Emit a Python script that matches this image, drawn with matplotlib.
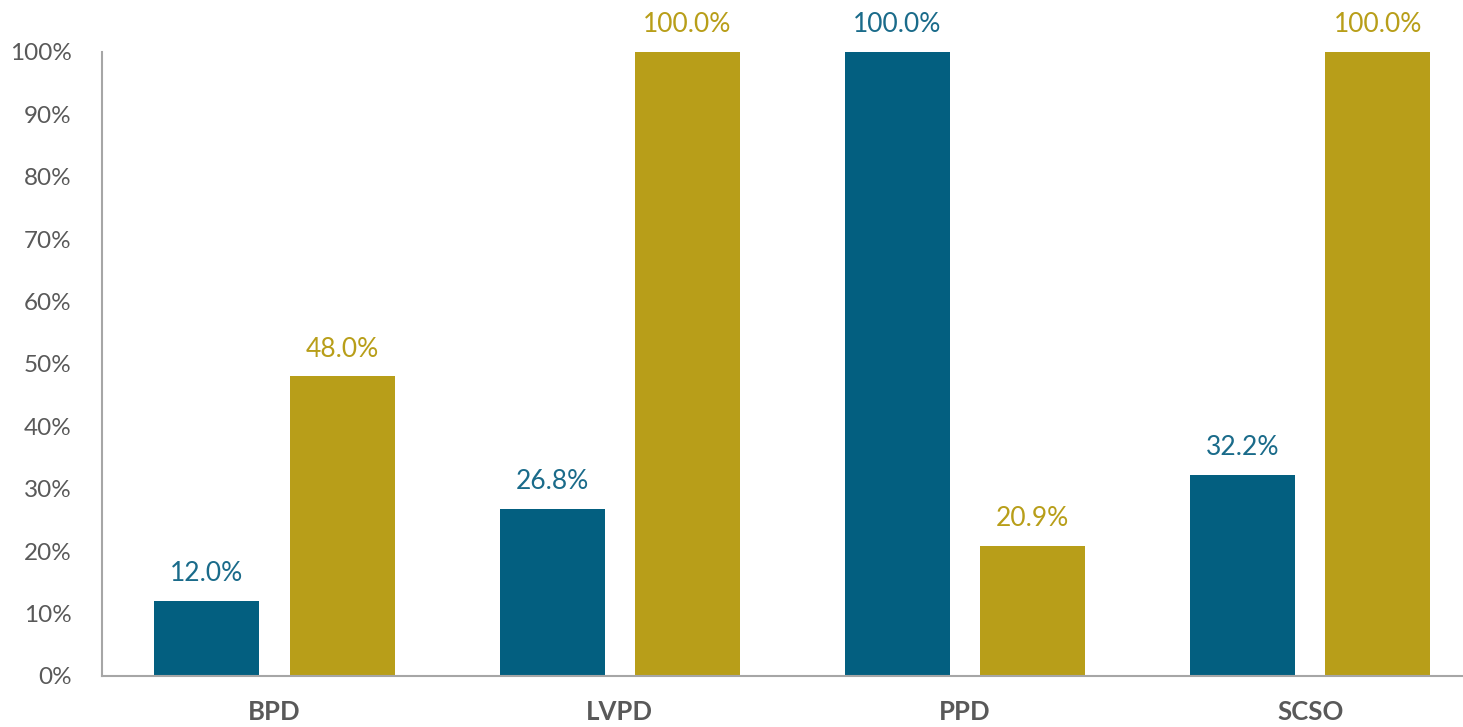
import matplotlib.pyplot as plt
import numpy as np

plt.rcParams['font.family'] = ['Lato', 'DejaVu Sans']

# data
categories = ['BPD', 'LVPD', 'PPD', 'SCSO']
series_a = [12.0, 26.8, 100.0, 32.2]
series_b = [48.0, 100.0, 20.9, 100.0]
y_ticks = [0, 10, 20, 30, 40, 50, 60, 70, 80, 90, 100]

blue = '#035f80'
gold = '#b89e19'
grey = '#595959'

fig = plt.figure(figsize=(14.63, 7.27), dpi=100)
ax = fig.add_axes([102 / 1463, 51 / 727, 1 - 102 / 1463, 624 / 727])

x = np.arange(len(categories))
w = 0.304
off = 0.196
bars_a = ax.bar(x - off, series_a, w, color=blue)
bars_b = ax.bar(x + off, series_b, w, color=gold)

# value labels above the bars
for bars, vals, c in [(bars_a, series_a, '#1a6b8a'), (bars_b, series_b, gold)]:
    for b, v in zip(bars, vals):
        ax.text(b.get_x() + b.get_width() / 2, v + 4.4, f'{v:.1f}%',
                ha='center', va='center', fontsize=19, color=c)

ax.set_xlim(-0.5, 3.443)
ax.set_ylim(0, 100)
ax.set_yticks(y_ticks)
ax.set_yticklabels([f'{t}%' for t in y_ticks], fontsize=17.5, color=grey)
ax.set_xticks(x)
ax.set_xticklabels(categories, fontsize=18.5, fontweight='bold', color=grey)
ax.tick_params(length=0)
ax.tick_params(axis='y', pad=22)
ax.tick_params(axis='x', pad=17)

for s in ['top', 'right']:
    ax.spines[s].set_visible(False)
for s in ['left', 'bottom']:
    ax.spines[s].set_color('#a6a6a6')
    ax.spines[s].set_linewidth(1.5)

fig.savefig('out.png', dpi=100)
